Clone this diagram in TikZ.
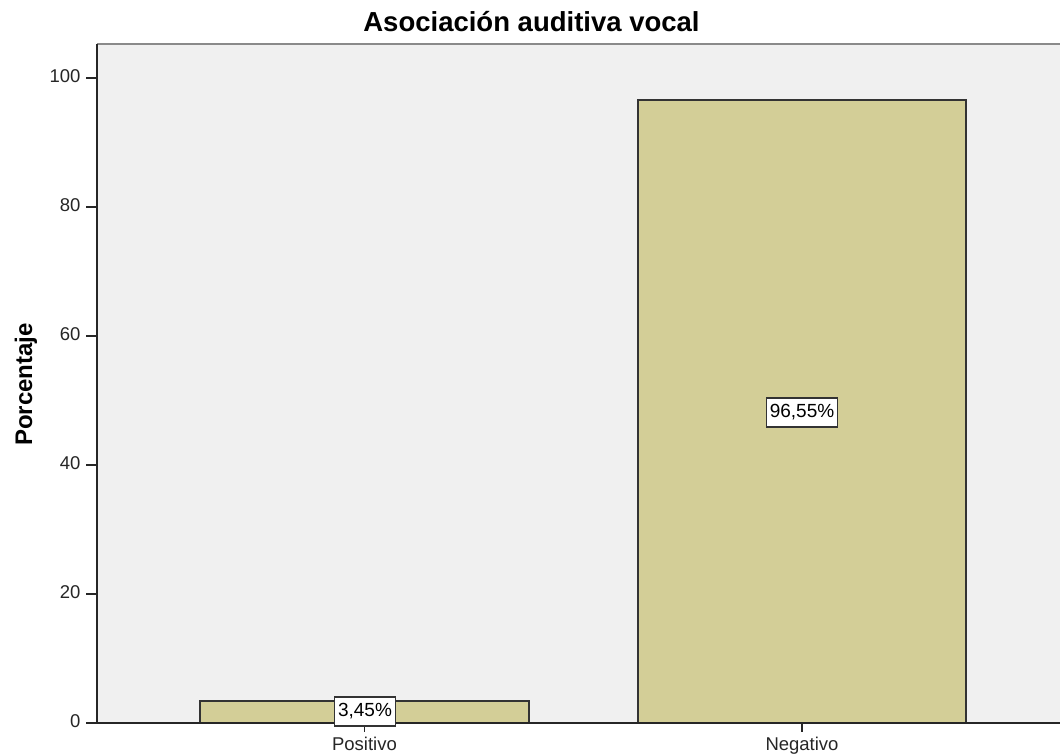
\documentclass[tikz,border=0pt]{standalone}
\usepackage{fontspec}
\setmainfont{Liberation Sans}

\definecolor{panelgray}{HTML}{F0F0F0}
\definecolor{barfill}{HTML}{D3CE97}
\definecolor{edgegray}{HTML}{333333}
\definecolor{framegray}{HTML}{8A8A8A}

\tikzset{
  barbox/.style={draw=edgegray, line width=1.6pt, fill=barfill},
  pctlabel/.style={draw=edgegray, line width=1.2pt, fill=white, inner xsep=3.5pt,
                   inner ysep=0pt, minimum height=29pt, font=\fontsize{19}{21}\selectfont},
  ticklabel/.style={font=\fontsize{18.5}{20}\selectfont, text=black!85},
  axisline/.style={line width=1.5pt, draw=black!85}
}

\begin{document}
\begin{tikzpicture}[x=1pt, y=1pt]

        \useasboundingbox (0,0) rectangle (1060,755);

        %Plot panel
        \fill [panelgray]                   (97,32) rectangle (1060,711);
        \draw [line width=2pt, framegray]   (97,711) -- (1060,711);

        %Bars
        \draw [barbox]  (200,32) rectangle (529,54.25);
        \draw [barbox]  (638,32) rectangle (966,654.7);

        %Axes
        \draw [axisline]  (97,711) -- (97,32) -- (1060,32);

        %Y axis ticks
        \draw [axisline]  (86,32)    -- (97,32);
        \draw [axisline]  (86,161)   -- (97,161);
        \draw [axisline]  (86,290)   -- (97,290);
        \draw [axisline]  (86,419)   -- (97,419);
        \draw [axisline]  (86,548)   -- (97,548);
        \draw [axisline]  (86,677)   -- (97,677);

        \node [ticklabel, anchor=mid east] (t0)   at (84,30)  {0};
        \node [ticklabel, anchor=mid east] (t20)  at (84,159) {20};
        \node [ticklabel, anchor=mid east] (t40)  at (84,288) {40};
        \node [ticklabel, anchor=mid east] (t60)  at (84,417) {60};
        \node [ticklabel, anchor=mid east] (t80)  at (84,546) {80};
        \node [ticklabel, anchor=mid east] (t100) at (84,675) {100};

        %X axis ticks
        \draw [axisline]  (364.5,32) -- (364.5,23);
        \draw [axisline]  (802,32)   -- (802,23);

        \node [ticklabel, anchor=base] (pos) at (364.5,5) {Positivo};
        \node [ticklabel, anchor=base] (neg) at (802,5)   {Negativo};

        %Value labels
        \node [pctlabel] (pospct) at (365,43.5)  {3,45\%};
        \node [pctlabel] (negpct) at (802,342.5) {96,55\%};

        %Titles
        \node [font=\fontsize{27.5}{30}\selectfont\bfseries] (title) at (531.5,733) {Asociación auditiva vocal};
        \node [font=\fontsize{24}{28}\selectfont\bfseries, rotate=90, anchor=base] (ylabel) at (32,370.5) {Porcentaje};

\end{tikzpicture}
\end{document}
